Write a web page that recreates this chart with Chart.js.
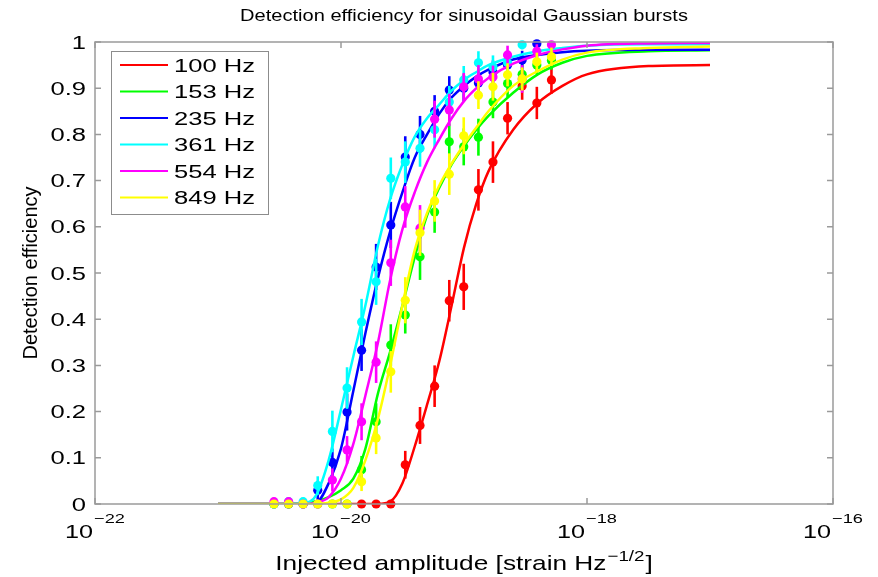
<!DOCTYPE html>
<html>
<head>
<meta charset="utf-8">
<title>Detection efficiency</title>
<script src="https://cdn.jsdelivr.net/npm/chart.js@4.4.1/dist/chart.umd.min.js"></script>
<style>
  html, body { margin: 0; padding: 0; background: #fff; }
  #wrap { position: relative; width: 878px; height: 577px; }
</style>
</head>
<body>
<div id="wrap"><canvas id="chart"></canvas></div>
<script>
// Burst central frequencies and their colours
const frequencies = ['100 Hz', '153 Hz', '235 Hz', '361 Hz', '554 Hz', '849 Hz'];
const colors = ['#ff0000', '#00ff00', '#0000ff', '#00ffff', '#ff00ff', '#ffff00'];

// Axis ticks
const xTickExponents = [-22, -20, -18, -16];
const yTicks = [0, 0.1, 0.2, 0.3, 0.4, 0.5, 0.6, 0.7, 0.8, 0.9, 1];
const yTickLabels = ['0', '0.1', '0.2', '0.3', '0.4', '0.5', '0.6', '0.7', '0.8', '0.9', '1'];

// Injected amplitudes of the measured points [strain Hz^-1/2]
const injectedAmplitudes = [
  2.85e-21, 3.75e-21, 4.92e-21, 6.47e-21, 8.51e-21, 1.12e-20, 1.47e-20,
  1.93e-20, 2.54e-20, 3.33e-20, 4.39e-20, 5.77e-20, 7.59e-20, 9.95e-20,
  1.31e-19, 1.72e-19, 2.26e-19, 2.97e-19, 3.91e-19, 5.14e-19
];

// Measured efficiency and its error, per frequency (null = not measured)
const eff100 = [null, null, null, null, null, null, 0, 0, 0, 0.085, 0.17, 0.255, 0.44, 0.47, 0.68, 0.74, 0.835, 0.905, 0.868, 0.918];
const err100 = [null, null, null, null, null, null, 0, 0, 0, 0.03, 0.04, 0.045, 0.045, 0.05, 0.045, 0.045, 0.035, 0.03, 0.035, 0.03];
const eff153 = [0, 0, 0, 0, 0, 0, 0.074, 0.178, 0.344, 0.409, 0.535, 0.632, 0.784, 0.773, 0.794, 0.87, 0.91, 0.93, 0.95, 0.96];
const err153 = [0, 0, 0, 0, 0, 0, 0.03, 0.04, 0.045, 0.04, 0.05, 0.045, 0.04, 0.04, 0.04, 0.035, 0.03, 0.025, 0.02, 0.02];
const eff235 = [0, 0, 0, 0.03, 0.09, 0.199, 0.333, 0.513, 0.604, 0.751, 0.80, 0.85, 0.896, 0.90, 0.911, 0.935, 0.95, 0.961, 0.996, null];
const err235 = [0, 0, 0, 0.02, 0.03, 0.04, 0.045, 0.05, 0.05, 0.045, 0.04, 0.035, 0.03, 0.03, 0.03, 0.025, 0.02, 0.02, 0.01, null];
const eff361 = [0, 0.005, 0.005, 0.04, 0.157, 0.251, 0.394, 0.481, 0.705, 0.74, 0.77, 0.81, 0.87, 0.918, 0.955, 0.946, 0.955, 0.994, null, null];
const err361 = [0, 0.005, 0.005, 0.02, 0.045, 0.045, 0.05, 0.05, 0.045, 0.045, 0.04, 0.04, 0.035, 0.03, 0.025, 0.025, 0.025, 0.01, null, null];
const eff554 = [0.005, 0.005, 0, 0, 0.052, 0.117, 0.178, 0.307, 0.522, 0.643, 0.597, 0.833, 0.853, 0.903, 0.92, 0.924, 0.972, 0.92, 0.98, 0.994];
const err554 = [0.005, 0.005, 0, 0, 0.025, 0.03, 0.04, 0.045, 0.05, 0.045, 0.05, 0.04, 0.035, 0.03, 0.03, 0.025, 0.02, 0.03, 0.015, 0.01];
const eff849 = [0, 0, 0, 0, 0, 0, 0.048, 0.143, 0.286, 0.441, 0.587, 0.656, 0.714, 0.797, 0.885, 0.903, 0.929, 0.92, 0.957, 0.968];
const err849 = [0, 0, 0, 0, 0, 0, 0.02, 0.035, 0.045, 0.05, 0.05, 0.045, 0.045, 0.04, 0.03, 0.03, 0.025, 0.025, 0.02, 0.02];

// Sigmoid fits, sampled along the amplitude axis
const fitAmplitudes = [
  1e-21, 3.16e-21, 5.01e-21, 6.31e-21, 7.94e-21, 1e-20, 1.26e-20, 1.58e-20,
  2.0e-20, 2.51e-20, 3.16e-20, 3.98e-20, 5.01e-20, 6.31e-20, 7.94e-20, 1e-19,
  1.26e-19, 1.58e-19, 2.51e-19, 3.98e-19, 6.31e-19, 1e-18, 3.16e-18, 1e-17
];
const fit100 = [0, 0, 0, 0, 0, 0, 0, 0, 0, 0.005, 0.045, 0.125, 0.215, 0.31, 0.43, 0.555, 0.65, 0.72, 0.81, 0.868, 0.905, 0.93, 0.948, 0.95];
const fit153 = [0, 0, 0.002, 0.006, 0.015, 0.03, 0.055, 0.12, 0.24, 0.33, 0.43, 0.535, 0.625, 0.685, 0.735, 0.775, 0.81, 0.84, 0.89, 0.93, 0.955, 0.97, 0.98, 0.982];
const fit235 = [0, 0, 0, 0.003, 0.045, 0.12, 0.245, 0.37, 0.49, 0.59, 0.675, 0.75, 0.8, 0.845, 0.88, 0.905, 0.925, 0.94, 0.962, 0.972, 0.978, 0.981, 0.983, 0.983];
const fit361 = [0, 0, 0.002, 0.02, 0.095, 0.205, 0.32, 0.43, 0.56, 0.66, 0.735, 0.795, 0.835, 0.865, 0.895, 0.918, 0.935, 0.95, 0.968, 0.98, 0.987, 0.992, 0.995, 0.995];
const fit554 = [0, 0, 0, 0.003, 0.015, 0.055, 0.13, 0.235, 0.35, 0.485, 0.595, 0.675, 0.74, 0.79, 0.835, 0.872, 0.9, 0.922, 0.953, 0.972, 0.984, 0.992, 0.997, 0.998];
const fit849 = [0, 0, 0, 0, 0.003, 0.01, 0.035, 0.095, 0.185, 0.30, 0.43, 0.55, 0.63, 0.69, 0.737, 0.778, 0.815, 0.85, 0.905, 0.937, 0.962, 0.977, 0.987, 0.99];

const measured = [eff100, eff153, eff235, eff361, eff554, eff849];
const errors = [err100, err153, err235, err361, err554, err849];
const fits = [fit100, fit153, fit235, fit361, fit554, fit849];

const FONT = '"Liberation Sans", Arial, Helvetica, sans-serif';
const TEXT = '#000';

// Draw text squeezed/stretched horizontally by sx, returns drawn width
function drawText(ctx, str, x, y, size, sx, align) {
  ctx.save();
  ctx.font = size + 'px ' + FONT;
  ctx.textBaseline = 'alphabetic';
  const w = ctx.measureText(str).width * sx;
  let left = x;
  if (align === 'center') left = x - w / 2;
  else if (align === 'right') left = x - w;
  ctx.translate(left, y);
  ctx.scale(sx, 1);
  ctx.textAlign = 'left';
  ctx.fillStyle = TEXT;
  ctx.fillText(str, 0, 0);
  ctx.restore();
  return w;
}

function textWidth(ctx, str, size, sx) {
  ctx.save();
  ctx.font = size + 'px ' + FONT;
  const w = ctx.measureText(str).width * sx;
  ctx.restore();
  return w;
}

// Error bars under each set of measured points
const errorBars = {
  id: 'errorBars',
  beforeDatasetDraw(chart, args) {
    const ds = chart.data.datasets[args.index];
    if (!ds.isMeasured) return;
    const { ctx, chartArea: a, scales: { x, y } } = chart;
    ctx.save();
    ctx.beginPath();
    ctx.rect(a.left, a.top, a.right - a.left, a.bottom - a.top + 8);
    ctx.clip();
    ctx.strokeStyle = ds.backgroundColor;
    ctx.lineWidth = 2.6;
    ds.data.forEach(p => {
      if (!p.e) return;
      const px = x.getPixelForValue(p.x);
      ctx.beginPath();
      ctx.moveTo(px, y.getPixelForValue(Math.max(0, p.y - p.e)));
      ctx.lineTo(px, y.getPixelForValue(p.y + p.e));
      ctx.stroke();
    });
    ctx.restore();
  }
};

// Axes box, ticks, labels, title and legend
const axesFrame = {
  id: 'axesFrame',
  afterDraw(chart) {
    const { ctx, chartArea: a, scales: { x, y } } = chart;
    const tick = 6;
    ctx.save();
    ctx.strokeStyle = '#9a9a9a';
    ctx.lineWidth = 1.5;
    ctx.strokeRect(a.left, a.top, a.right - a.left, a.bottom - a.top);

    ctx.beginPath();
    yTicks.forEach(v => {
      const py = y.getPixelForValue(v);
      ctx.moveTo(a.left, py); ctx.lineTo(a.left + tick, py);
      ctx.moveTo(a.right, py); ctx.lineTo(a.right - tick, py);
    });
    xTickExponents.forEach(e => {
      const px = x.getPixelForValue(Math.pow(10, e));
      ctx.moveTo(px, a.bottom); ctx.lineTo(px, a.bottom - tick);
      ctx.moveTo(px, a.top); ctx.lineTo(px, a.top + tick);
    });
    ctx.stroke();
    ctx.restore();

    // y tick labels
    yTicks.forEach((v, i) => {
      drawText(ctx, yTickLabels[i], a.left - 9, y.getPixelForValue(v) + 6.5, 18, 1.42, 'right');
    });

    // x tick labels as 10^e
    xTickExponents.forEach(e => {
      const px = x.getPixelForValue(Math.pow(10, e));
      const exp = '\u2212' + Math.abs(e);
      const wb = textWidth(ctx, '10', 18, 1.4);
      const we = textWidth(ctx, exp, 13, 1.4);
      const left = px - (wb + we + 1) / 2;
      drawText(ctx, '10', left, 538, 18, 1.4, 'left');
      drawText(ctx, exp, left + wb + 1, 523, 13, 1.4, 'left');
    });

    // x axis label with superscript
    const cx = (a.left + a.right) / 2;
    const parts = ['Injected amplitude [strain Hz', '\u22121/2', ']'];
    const w0 = textWidth(ctx, parts[0], 21, 1.25);
    const w1 = textWidth(ctx, parts[1], 15, 1.25);
    const w2 = textWidth(ctx, parts[2], 21, 1.25);
    let lx = cx - (w0 + w1 + w2 + 2) / 2;
    drawText(ctx, parts[0], lx, 570, 21, 1.25, 'left');
    drawText(ctx, parts[1], lx + w0 + 1, 561, 15, 1.25, 'left');
    drawText(ctx, parts[2], lx + w0 + w1 + 2, 570, 21, 1.25, 'left');

    // y axis label
    ctx.save();
    ctx.translate(37, (a.top + a.bottom) / 2);
    ctx.rotate(-Math.PI / 2);
    ctx.font = '20px ' + FONT;
    ctx.fillStyle = TEXT;
    ctx.textAlign = 'center';
    ctx.fillText('Detection efficiency', 0, 0);
    ctx.restore();

    // title
    drawText(ctx, 'Detection efficiency for sinusoidal Gaussian bursts', cx, 21, 17, 1.18, 'center');

    // legend
    const box = { left: 111, top: 51, right: 268, bottom: 214 };
    ctx.save();
    ctx.fillStyle = '#fff';
    ctx.fillRect(box.left, box.top, box.right - box.left, box.bottom - box.top);
    ctx.strokeStyle = '#8c8c8c';
    ctx.lineWidth = 1;
    ctx.strokeRect(box.left + 0.5, box.top + 0.5, box.right - box.left, box.bottom - box.top);
    ctx.restore();
    frequencies.forEach((label, i) => {
      const ry = 65 + i * 26.5;
      ctx.save();
      ctx.strokeStyle = colors[i];
      ctx.lineWidth = 2;
      ctx.beginPath();
      ctx.moveTo(120, ry); ctx.lineTo(168, ry);
      ctx.stroke();
      ctx.restore();
      drawText(ctx, label, 174, ry + 6.5, 18, 1.42, 'left');
    });
  }
};

const datasets = [];
let order = 100;
frequencies.forEach((label, i) => {
  const pts = [];
  injectedAmplitudes.forEach((amp, k) => {
    if (measured[i][k] !== null) pts.push({ x: amp, y: measured[i][k], e: errors[i][k] });
  });
  datasets.push({
    label: label,
    data: pts,
    isMeasured: true,
    showLine: false,
    pointRadius: 4.6,
    pointBorderWidth: 0,
    backgroundColor: colors[i],
    borderColor: colors[i],
    clip: false,
    order: order--
  });
  datasets.push({
    label: label,
    data: fitAmplitudes.map((amp, k) => ({ x: amp, y: fits[i][k] })),
    showLine: true,
    pointRadius: 0,
    borderWidth: 2.5,
    borderColor: colors[i],
    backgroundColor: colors[i],
    cubicInterpolationMode: 'monotone',
    clip: 0,
    order: order--
  });
});

new Chart(document.getElementById('chart'), {
  type: 'scatter',
  data: { datasets: datasets },
  options: {
    responsive: true,
    maintainAspectRatio: false,
    animation: false,
    layout: { padding: { left: 95, right: 45, top: 42, bottom: 73 } },
    scales: {
      x: { type: 'logarithmic', min: 1e-22, max: 1e-16, display: false },
      y: { type: 'linear', min: 0, max: 1, display: false }
    },
    plugins: {
      legend: { display: false },
      tooltip: { enabled: false }
    }
  },
  plugins: [errorBars, axesFrame]
});
</script>
</body>
</html>
